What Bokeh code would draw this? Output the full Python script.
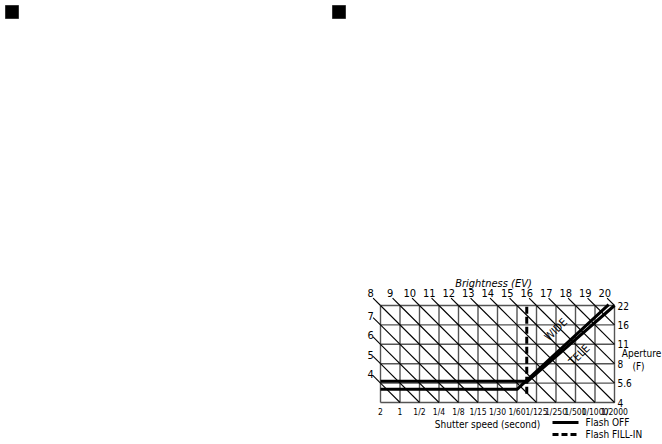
from bokeh.plotting import figure
from bokeh.models import Range1d
from bokeh.core.properties import value
from bokeh.embed import file_html
from bokeh.resources import INLINE

# Program chart: shutter speed (x, in stops) vs aperture (y, in stops)
shutter_labels = ["2", "1", "1/2", "1/4", "1/8", "1/15", "1/30", "1/60",
                  "1/125", "1/250", "1/500", "1/1000", "1/2000"]
aperture_labels = ["4", "5.6", "8", "11", "16", "22"]
ev_values = list(range(4, 21))
EV_AT_ORIGIN = 3  # 2 s at f/4

# Program lines (shutter stop index, aperture stop index)
wide_s = [0.0, 7.0, 11.7]
wide_a = [0.68, 0.68, 5.05]
tele_s = [0.0, 7.55, 12.0]
tele_a = [1.1, 1.1, 5.0]
fill_in_s = [7.5, 7.5]
fill_in_a = [0.45, 5.0]

W, H = 662, 444
NS = len(shutter_labels) - 1
NA = len(aperture_labels) - 1

# page placement of the grid (pixels)
GX0, GX1 = 380.0, 614.0
GY0, GY1 = 402.0, 305.0
KX = (GX1 - GX0) / NS
KY = (GY0 - GY1) / NA

x_start = -GX0 / KX
x_end = x_start + W / KX
y_end = GY0 / KY
y_start = y_end - H / KY


def px(x):
    return x_start + x / KX


def py(y):
    return y_end - y / KY


FONT = value("DejaVu Sans Condensed")

p = figure(width=W, height=H, output_backend="svg", toolbar_location=None,
           x_axis_location=None, y_axis_location=None, min_border=0,
           x_range=Range1d(x_start, x_end), y_range=Range1d(y_start, y_end))
p.grid.visible = False
p.outline_line_color = None
p.background_fill_color = "white"

# section markers
for left in (5, 332):
    p.quad(left=[px(left)], right=[px(left + 13)], top=[py(5)], bottom=[py(18)],
           fill_color="black", line_color="#333333")

# square grid
shutter_idx = list(range(NS + 1))
aperture_idx = list(range(NA + 1))
p.segment(x0=shutter_idx, y0=[0] * len(shutter_idx), x1=shutter_idx,
          y1=[NA] * len(shutter_idx), line_color="#555555", line_width=1.4)
p.segment(x0=[0] * len(aperture_idx), y0=aperture_idx, x1=[NS] * len(aperture_idx),
          y1=aperture_idx, line_color="#555555", line_width=1.4)

# EV diagonals: EV = EV_AT_ORIGIN + shutter + aperture
dx0, dy0, dx1, dy1 = [], [], [], []
lx0, ly0, lx1, ly1 = [], [], [], []
tx, ty, tt = [], [], []
for ev in ev_values:
    k = ev - EV_AT_ORIGIN
    if k <= NA:
        s0, a0 = 0, k
    else:
        s0, a0 = k - NA, NA
    if k <= NS:
        s1, a1 = k, 0
    else:
        s1, a1 = NS, k - NS
    dx0.append(s0); dy0.append(a0); dx1.append(s1); dy1.append(a1)
    lx0.append(s0); ly0.append(a0); lx1.append(s0 - 0.38); ly1.append(a0 + 0.38)
    if a0 == NA:
        tx.append(s0 - 0.5); ty.append(a0 + 0.62)
    else:
        tx.append(s0 - 0.5); ty.append(a0 + 0.47)
    tt.append(str(ev))
p.segment(x0=dx0, y0=dy0, x1=dx1, y1=dy1, line_color="black", line_width=1.1)
p.segment(x0=lx0, y0=ly0, x1=lx1, y1=ly1, line_color="black", line_width=1.1)
p.text(x=tx, y=ty, text=tt, text_font=FONT, text_font_size="11px",
       text_align="center", text_baseline="middle", text_color="black")

# program lines
p.line(wide_s, wide_a, line_color="black", line_width=3)
p.line(tele_s, tele_a, line_color="black", line_width=3)
p.line(fill_in_s, fill_in_a, line_color="black", line_width=3, line_dash="7 3")

p.text(x=[9.0], y=[3.75], text=["WIDE"], angle=0.78, text_font=FONT,
       text_font_size="11px", text_align="center", text_baseline="middle")
p.text(x=[10.2], y=[2.45], text=["TELE"], angle=0.78, text_font=FONT,
       text_font_size="11px", text_align="center", text_baseline="middle")

# axis labels
p.text(x=shutter_idx, y=[py(411)] * len(shutter_idx), text=shutter_labels,
       text_font=FONT, text_font_size="8.5px", text_align="center",
       text_baseline="middle")
p.text(x=[NS + 0.15] * len(aperture_idx), y=aperture_idx, text=aperture_labels,
       text_font=FONT, text_font_size="10px", text_align="left",
       text_baseline="middle")

p.text(x=[px(493)], y=[py(283)], text=["Brightness (EV)"], text_font=FONT,
       text_font_size="11px", text_font_style="italic", text_align="center",
       text_baseline="middle")
p.text(x=[px(487)], y=[py(424)], text=["Shutter speed (second)"], text_font=FONT,
       text_font_size="10px", text_align="center", text_baseline="middle")
p.text(x=[px(641), px(638)], y=[py(353), py(366)], text=["Aperture", "(F)"],
       text_font=FONT, text_font_size="10px", text_align="center",
       text_baseline="middle")

# legend
p.segment(x0=[px(552)], y0=[py(422)], x1=[px(578)], y1=[py(422)],
          line_color="black", line_width=3)
p.segment(x0=[px(552)], y0=[py(434)], x1=[px(578)], y1=[py(434)],
          line_color="black", line_width=3, line_dash="6 3")
p.text(x=[px(585), px(585)], y=[py(422), py(434)],
       text=["Flash OFF", "Flash FILL-IN"], text_font=FONT,
       text_font_size="10px", text_align="left", text_baseline="middle")

open("out.html", "w").write(file_html(p, INLINE))
